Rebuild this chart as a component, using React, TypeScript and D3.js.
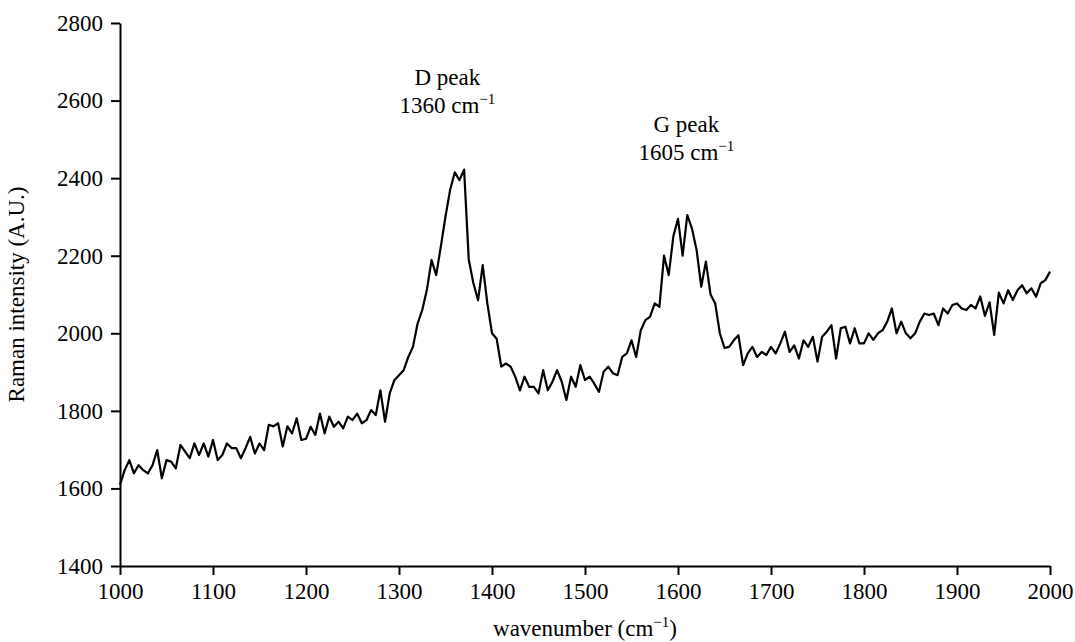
import React, { useRef, useEffect } from "react";
import * as d3 from "d3";

// wavenumber sampling (cm^-1)
const waveStart = 1000;
const waveEnd = 2000;
const waveStep = 5;

// Raman intensity, one value every 5 cm^-1
const intensity1000to1195 = [
  1609, 1647, 1673, 1639, 1660, 1647, 1639, 1660, 1699, 1626,
  1673, 1669, 1652, 1712, 1695, 1678, 1716, 1686, 1716, 1682,
  1725, 1673, 1686, 1716, 1704, 1704, 1678, 1704, 1733, 1690,
  1716, 1699, 1764, 1760, 1768, 1708, 1760, 1742, 1781, 1725,
];
const intensity1200to1395 = [
  1728, 1759, 1738, 1793, 1742, 1785, 1759, 1772, 1755, 1785,
  1776, 1793, 1768, 1776, 1802, 1789, 1853, 1772, 1845, 1879,
  1892, 1905, 1939, 1965, 2025, 2060, 2112, 2189, 2150, 2224,
  2301, 2370, 2415, 2395, 2422, 2190, 2129, 2085, 2176, 2077,
];
const intensity1400to1595 = [
  2000, 1986, 1914, 1922, 1914, 1888, 1853, 1888, 1862, 1862,
  1845, 1905, 1853, 1875, 1905, 1875, 1828, 1888, 1862, 1918,
  1879, 1888, 1870, 1849, 1901, 1914, 1897, 1892, 1939, 1948,
  1982, 1939, 2008, 2034, 2043, 2077, 2068, 2200, 2150, 2250,
];
const intensity1600to1795 = [
  2295, 2200, 2305, 2270, 2215, 2120, 2185, 2100, 2077, 2000,
  1962, 1965, 1982, 1995, 1918, 1948, 1965, 1939, 1952, 1944,
  1965, 1948, 1974, 2004, 1952, 1969, 1935, 1982, 1965, 1991,
  1927, 1991, 2004, 2021, 1935, 2013, 2017, 1974, 2013, 1974,
];
const intensity1800to2000 = [
  1974, 2000, 1983, 2000, 2008, 2030, 2064, 2000, 2030, 2000,
  1987, 2000, 2030, 2051, 2047, 2051, 2021, 2064, 2051, 2073,
  2077, 2064, 2060, 2073, 2064, 2095, 2045, 2080, 1996, 2105,
  2077, 2111, 2086, 2111, 2124, 2103, 2116, 2094, 2129, 2137, 2159,
];

const xTicks = [1000, 1100, 1200, 1300, 1400, 1500, 1600, 1700, 1800, 1900, 2000];
const yTicks = [1400, 1600, 1800, 2000, 2200, 2400, 2600, 2800];

const peaks = [
  { name: "D peak", position: 1360, labelX: 1352, labelY: 2640 },
  { name: "G peak", position: 1605, labelX: 1609, labelY: 2520 },
];

const App = () => {
  const svgRef = useRef<SVGSVGElement>(null);

  useEffect(() => {
    const width = 1075,
      height = 642;
    const margin = { top: 23, right: 25, bottom: 76, left: 120 };
    const font = "Liberation Serif, Times New Roman, Times, serif";

    const svg = d3.select(svgRef.current);
    svg.selectAll("*").remove();
    svg.attr("width", width).attr("height", height);

    const intensity = [
      ...intensity1000to1195,
      ...intensity1200to1395,
      ...intensity1400to1595,
      ...intensity1600to1795,
      ...intensity1800to2000,
    ];
    const wavenumbers = d3.range(waveStart, waveEnd + 1, waveStep);
    const data = wavenumbers.map((w, i) => ({ w, v: intensity[i] }));

    const x = d3
      .scaleLinear()
      .domain([1000, 2000])
      .range([margin.left, width - margin.right]);
    const y = d3
      .scaleLinear()
      .domain([1400, 2800])
      .range([height - margin.bottom, margin.top]);

    // X axis
    const xAxis = svg
      .append("g")
      .attr("transform", `translate(0,${height - margin.bottom})`)
      .call(
        d3
          .axisBottom(x)
          .tickValues(xTicks)
          .tickFormat(d3.format("d"))
          .tickSize(9)
          .tickSizeOuter(0)
          .tickPadding(8)
      );

    // Y axis
    const yAxis = svg
      .append("g")
      .attr("transform", `translate(${margin.left},0)`)
      .call(
        d3
          .axisLeft(y)
          .tickValues(yTicks)
          .tickFormat(d3.format("d"))
          .tickSize(9)
          .tickSizeOuter(0)
          .tickPadding(8)
      );

    [xAxis, yAxis].forEach((g) => {
      g.attr("font-family", null).attr("font-size", null);
      g.selectAll("path, line").attr("stroke", "#000").attr("stroke-width", 2);
      g.selectAll("text")
        .attr("fill", "#000")
        .style("font-family", font)
        .style("font-size", "23px");
    });

    // spectrum
    const line = d3
      .line<{ w: number; v: number }>()
      .x((d) => x(d.w))
      .y((d) => y(d.v));

    svg
      .append("path")
      .datum(data)
      .attr("d", line)
      .attr("fill", "none")
      .attr("stroke", "#000")
      .attr("stroke-width", 2.2)
      .attr("stroke-linejoin", "round");

    // peak annotations
    peaks.forEach((p) => {
      const t = svg
        .append("text")
        .style("font-family", font)
        .style("font-size", "23px")
        .attr("text-anchor", "middle")
        .attr("x", x(p.labelX))
        .attr("y", y(p.labelY));
      t.append("tspan").attr("x", x(p.labelX)).text(p.name);
      const l2 = t
        .append("tspan")
        .attr("x", x(p.labelX))
        .attr("dy", 28)
        .text(`${p.position} cm`);
      l2.append("tspan").style("font-size", "15px").attr("dy", -9).text("\u22121");
    });

    // axis titles
    const xt = svg
      .append("text")
      .style("font-family", font)
      .style("font-size", "23px")
      .attr("text-anchor", "middle")
      .attr("x", (margin.left + width - margin.right) / 2)
      .attr("y", 636);
    xt.append("tspan").text("wavenumber (cm");
    xt.append("tspan").style("font-size", "15px").attr("dy", -9).text("\u22121");
    xt.append("tspan").attr("dy", 9).text(")");

    svg
      .append("text")
      .style("font-family", font)
      .style("font-size", "23px")
      .attr("text-anchor", "middle")
      .attr("transform", `translate(24,${(margin.top + height - margin.bottom) / 2}) rotate(-90)`)
      .text("Raman intensity (A.U.)");
  }, []);

  return (
    <svg
      ref={svgRef}
      style={{ position: "absolute", left: 0, top: 0, background: "#fff" }}
    ></svg>
  );
};

export default App;
